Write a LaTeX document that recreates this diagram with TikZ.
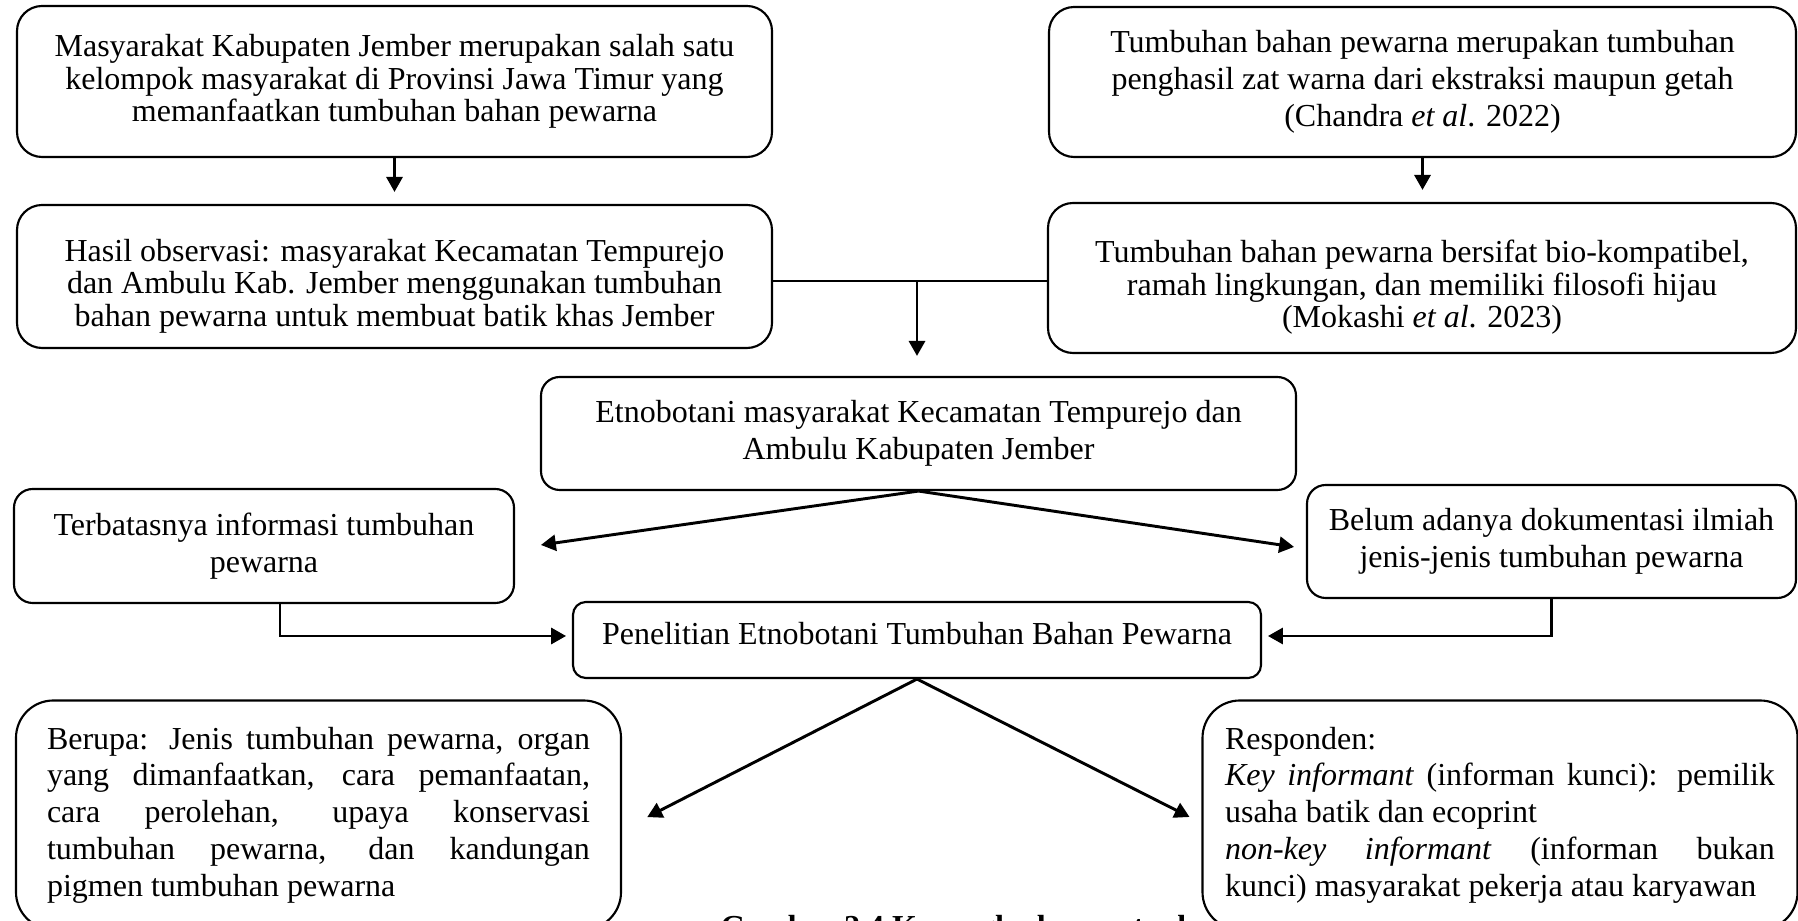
\documentclass[tikz,border=0pt]{standalone}
\usepackage{fontspec}
\setmainfont{Liberation Serif}
\usetikzlibrary{arrows.meta}
\tolerance=10000
\hyphenpenalty=10000
\exhyphenpenalty=10000
\def\pxu{0.375pt}

\begin{document}
\begin{tikzpicture}[
x=\pxu, y=-\pxu,
font=\fontsize{12}{13.8}\selectfont,
kotak/.style={draw=black, line width=0.8pt, rounded corners=#1, align=center, inner sep=0pt},
kotak/.default=7pt,
rapat/.style={font=\fontsize{12}{12.2}\selectfont},
ukuran/.style 2 args={minimum width=#1*\pxu, minimum height=#2*\pxu},
panah/.style={line width=1.1pt, -{Triangle[length=5.6pt,width=6pt]}},
garis/.style={line width=1.1pt},
]
\useasboundingbox (0,0) rectangle (1798,921);
\clip (0,0) rectangle (1798,921);

\node[kotak=9.4pt, rapat, ukuran={755}{151}] (masyarakat) at (394.5,81.5)
  {Masyarakat Kabupaten Jember merupakan salah satu\\
   kelompok masyarakat di Provinsi Jawa Timur yang\\
   memanfaatkan tumbuhan bahan pewarna};
\node[kotak=9.4pt, ukuran={747}{150}] (pewarna) at (1422.5,82)
  {Tumbuhan bahan pewarna merupakan tumbuhan\\
   penghasil zat warna dari ekstraksi maupun getah\\
   (Chandra \textit{et al}. 2022)};
\node[kotak=9.4pt, rapat, ukuran={755}{143}] (observasi) at (394.5,276.5)
  {\rule{0pt}{15.5pt}Hasil observasi: masyarakat Kecamatan Tempurejo\\
   dan Ambulu Kab. Jember menggunakan tumbuhan\\
   bahan pewarna untuk membuat batik khas Jember};
\node[kotak=9.4pt, rapat, ukuran={748}{150}] (biokompatibel) at (1422,278)
  {\rule{0pt}{15.5pt}Tumbuhan bahan pewarna bersifat bio-kompatibel,\\
   ramah lingkungan, dan memiliki filosofi hijau\\
   (Mokashi \textit{et al}. 2023)};
\node[kotak, ukuran={755}{113}] (etnobotani) at (918.5,433.5)
  {Etnobotani masyarakat Kecamatan Tempurejo dan\\
   Ambulu Kabupaten Jember};
\node[kotak, ukuran={500}{114}] (terbatas) at (264,546)
  {Terbatasnya informasi tumbuhan\\ pewarna};
\node[kotak, ukuran={489}{113}] (dokumentasi) at (1551.5,541.5)
  {Belum adanya dokumentasi ilmiah\\ jenis-jenis tumbuhan pewarna};
\node[kotak=4.8pt, ukuran={688}{76}] (penelitian) at (917,640)
  {Penelitian Etnobotani Tumbuhan Bahan Pewarna\rule[-5pt]{0pt}{5pt}};
\node[kotak=14pt, align=justify, text width=203.6pt, ukuran={605}{229}] (berupa) at (318.5,815)
  {Berupa: Jenis tumbuhan pewarna, organ\linebreak
   yang dimanfaatkan, cara pemanfaatan,\linebreak
   cara perolehan, upaya konservasi\linebreak
   tumbuhan pewarna, dan kandungan\linebreak
   pigmen tumbuhan pewarna};
\node[kotak=14pt, align=justify, text width=206.2pt, ukuran={595}{229}] (responden) at (1500,815)
  {Responden:\\
   \textit{Key informant} (informan kunci): pemilik\linebreak
   usaha batik dan ecoprint\\
   \textit{non-key informant} (informan bukan\linebreak
   kunci) masyarakat pekerja atau karyawan};
\node[font=\fontsize{12}{13.8}\selectfont\bfseries, anchor=base west, inner sep=0pt] (judul) at (720,937)
  {Gambar 2.4 Kerangka konseptual};

% panah
\draw[panah, shorten >=4.5pt] (masyarakat) -- (observasi);
\draw[panah, shorten >=4.5pt] (pewarna.south) -- (pewarna.south |- biokompatibel.north);
\coordinate (cabang) at (917,281);
\draw[garis] (observasi.east |- cabang) -- (biokompatibel.west |- cabang);
\draw[panah, shorten >=7.5pt] (cabang) -- (cabang |- etnobotani.north);
\draw[panah, shorten >=9.8pt] (etnobotani.south) -- ([yshift=-1pt]terbatas.east);
\draw[panah, shorten >=4.5pt] (etnobotani.south) -- ([yshift=-2.7pt]dokumentasi.west);
\draw[panah, shorten >=2.2pt] ([xshift=6pt]terbatas.south) |- ([yshift=1.5pt]penelitian.west);
\draw[panah, shorten >=2.2pt] (dokumentasi.south) |- ([yshift=1.5pt]penelitian.east);
\draw[panah, shorten >=10.6pt] (penelitian.south) -- ([yshift=-5.6pt]berupa.east);
\draw[panah, shorten >=5pt] (penelitian.south) -- ([yshift=-3pt]responden.west);

\end{tikzpicture}
\end{document}
